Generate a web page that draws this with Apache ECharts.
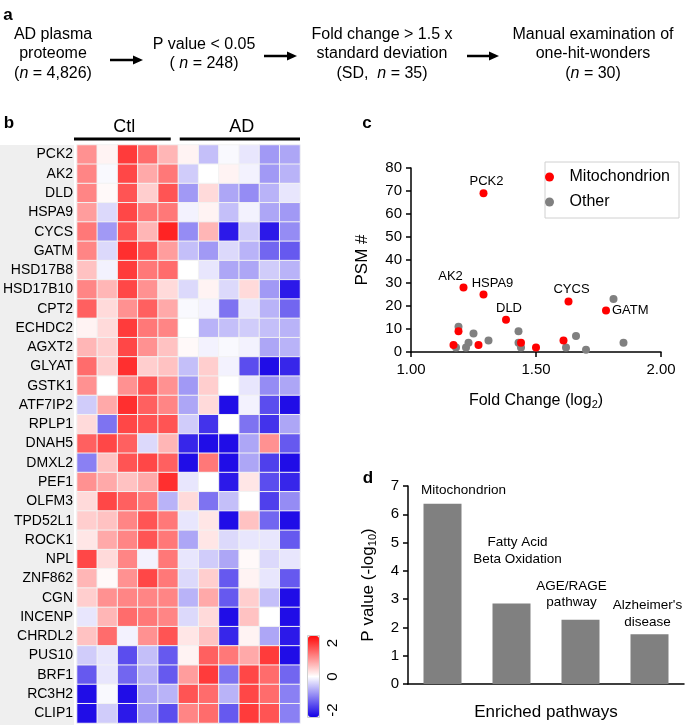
<!DOCTYPE html>
<html><head><meta charset="utf-8">
<script src="https://cdn.jsdelivr.net/npm/echarts@6/dist/echarts.min.js"></script>
<style>html,body{margin:0;padding:0;background:#fff}#c{width:685px;height:725px}</style>
</head><body><div id="c"></div>
<script>
// ---------- DATA ----------
const genes = ['PCK2','AK2','DLD','HSPA9','CYCS','GATM','HSD17B8','HSD17B10','CPT2','ECHDC2','AGXT2','GLYAT','GSTK1','ATF7IP2','RPLP1','DNAH5','DMXL2','PEF1','OLFM3','TPD52L1','ROCK1','NPL','ZNF862','CGN','INCENP','CHRDL2','PUS10','BRF1','RC3H2','CLIP1'];
const samples = ['Ctl-1','Ctl-2','Ctl-3','Ctl-4','Ctl-5','AD-1','AD-2','AD-3','AD-4','AD-5','AD-6'];
const groups = ['Ctl','AD'];
const groupSizes = [5, 6];
const heatValues = [
  [ 0.9, 0.1, 1.6, 1.2, 0.6,  0.1,-0.5,-0.05,-0.2,-0.8,-0.7],
  [ 1.0,-0.05,1.5, 0.7, 1.1, -0.4, 0.0, 0.1,-0.1,-0.8,-0.6],
  [ 1.0, 0.05,1.4, 0.4, 1.4, -0.8, 0.3,-0.7,-0.9,-0.6,-0.2],
  [ 0.8,-0.3, 1.5, 1.1, 1.1, -0.1, 0.1,-0.5,-0.1,-0.7,-0.8],
  [ 1.1,-0.8, 1.4, 0.6, 1.8, -0.9, 0.6,-1.8,-0.4,-1.8,-0.9],
  [ 1.0,-0.3, 1.7, 1.4, 0.8, -0.5,-0.8,-0.3,-0.6,-1.2,-1.3],
  [ 0.5,-0.1, 1.6, 1.1, 1.2,  0.0,-0.2,-0.7,-0.7,-0.4,-0.6],
  [ 1.0, 0.6, 1.5, 0.9, 0.3, -0.3, 0.1,-0.3, 0.3,-0.8,-1.8],
  [ 1.3, 0.3, 0.9, 1.3, 0.7, -0.05,-0.1,-1.1,-0.2,-0.6,-1.2],
  [ 0.1, 0.3, 1.6, 1.1, 1.0,  0.0,-0.6,-0.5,-0.4,-0.5,-0.6],
  [ 0.6, 0.4, 1.5, 0.9, 0.5,  0.05,-0.1,-0.05,-0.1,-0.7,-0.6],
  [ 1.2, 0.4, 1.7, 0.4, 0.5, -0.5, 0.4,-0.1,-1.4,-1.9,-1.7],
  [ 0.9, 0.0, 0.9, 1.4, 0.9, -0.8, 0.4, 0.0,-0.2,-0.9,-0.7],
  [-0.4, 0.7, 1.7, 1.3, 1.0, -0.7, 0.3,-1.9,-0.1,-1.4,-1.9],
  [ 0.3,-1.1, 1.5, 1.4, 1.4, -0.4,-1.6, 0.0,-1.1,-1.6,-0.7],
  [ 1.3, 1.5, 1.3,-0.3, 0.6, -1.7,-1.9,-1.9,-0.7, 0.9,-1.3],
  [-1.0, 0.5, 1.4, 1.5, 1.3, -1.9, 1.1,-1.9,-0.7,-1.5,-1.9],
  [ 0.9, 0.7, 0.5, 0.7, 1.7, -0.2, 0.0,-1.8, 0.2,-1.4,-1.7],
  [ 0.3, 1.5, 1.3, 1.1,-0.6,  0.3,-1.1,-0.5, 0.0,-1.5,-0.9],
  [ 0.4, 0.5, 1.0, 1.4, 1.1, -0.2, 0.2,-1.9, 0.5,-1.2,-1.9],
  [ 0.2, 0.7, 1.0, 1.4, 1.1, -0.7, 0.2,-0.3,-0.2,-0.2,-1.3],
  [ 1.5, 0.3, 1.0,-0.1, 1.1, -0.2,-0.4,-0.7, 0.05,-0.3,-0.2],
  [ 0.6, 0.05,0.9, 1.5, 1.1, -0.3, 0.4,-1.3, 0.1,-0.2,-1.3],
  [ 0.4, 0.9, 1.0, 1.0, 1.0, -0.6, 0.7,-1.3, 0.4,-0.5,-1.9],
  [-0.2, 0.6, 1.2, 1.1, 1.0, -0.3, 0.3,-1.9, 0.5, 0.0,-1.9],
  [ 0.5, 1.2,-0.1, 0.9, 1.4,  0.2, 0.5,-1.7, 0.1,-0.7,-1.8],
  [-0.4,-0.2,-1.4,-0.5,-1.3,  0.1, 1.3, 1.1, 0.7, 1.6,-1.9],
  [-1.3,-0.2,-1.2,-0.6,-1.3,  0.8, 1.6,-1.1, 1.5, 1.2,-1.2],
  [-1.9,-0.05,-1.9,-0.7,-0.6, 1.4, 1.2,-0.6, 1.5, 1.2,-1.0],
  [-1.9,-0.4,-1.8,-0.8,-1.4,  1.0, 1.2,-1.3, 1.6, 1.4,-1.0]
];
const colorbarTicks = [2, 0, -2];

const mitoNames = ['PCK2','AK2','HSPA9','DLD','CYCS','GATM','','','','','',''];
const mitoFold  = [1.29, 1.21, 1.29, 1.38, 1.63, 1.78, 1.19, 1.17, 1.27, 1.44, 1.50, 1.61];
const mitoPSM   = [69, 28, 25, 14, 22, 18, 9, 3, 3, 4, 2, 5];
const otherFold = [1.19, 1.25, 1.31, 1.43, 1.43, 1.44, 1.18, 1.22, 1.23, 1.62, 1.66, 1.70, 1.81, 1.85];
const otherPSM  = [11, 8, 5, 9, 4, 2, 2, 2, 4, 2, 7, 1, 23, 4];

const pathways = ['Mitochondrion', 'Fatty Acid\nBeta Oxidation', 'AGE/RAGE\npathway', "Alzheimer's\ndisease"];
const pathwayP = [6.37, 2.85, 2.27, 1.76];

const flowSteps = [
  ['AD plasma', 'proteome', '(@n@ = 4,826)'],
  ['P value < 0.05', '( @n@ = 248)'],
  ['Fold change > 1.5 x', 'standard deviation', '(SD,  @n@ = 35)'],
  ['Manual examination of', 'one-hit-wonders', '(@n@ = 30)']
];

// ---------- STYLE / LAYOUT ----------
const FONT = '"Liberation Sans", Arial, sans-serif';
const HM = {left: 74, top: 145, width: 226, height: 578};
const CB = {left: 308, top: 636, width: 11, height: 81};
const SC = {left: 411, top: 168, width: 250, height: 184};
const BR = {left: 408, top: 486, width: 276, height: 198};

const scatterLabelStyle = {
  PCK2:  {position: 'top', distance: 1, offset: [3, 0]},
  AK2:   {position: 'top', distance: 1, offset: [-13, 0]},
  HSPA9: {position: 'top', distance: 1, offset: [9, 0]},
  DLD:   {position: 'top', distance: 1, offset: [3, 0]},
  CYCS:  {position: 'top', distance: 1, offset: [3, 0]},
  GATM:  {position: 'right', distance: 2, offset: [0, 0]}
};
const barLabelDist = [5, 36, 9, 4];
const barLabelDx = [21, 6, -9, -2];
const flowCenters = [[53, 54], [204, 54], [382, 54], [593, 54]];
const arrows = [[110, 143, 60], [264, 297, 56], [467, 499, 56]];

// ---------- BUILD ----------
const heatData = [];
heatValues.forEach((row, r) => row.forEach((v, c) => heatData.push([c, r, v])));

const mitoData = mitoFold.map((x, i) => {
  const n = mitoNames[i];
  const item = {name: n, value: [x, mitoPSM[i]]};
  if (n && scatterLabelStyle[n]) {
    item.label = Object.assign({show: true, formatter: n, fontSize: 13, color: '#000', fontFamily: FONT}, scatterLabelStyle[n]);
  }
  return item;
});
const otherData = otherFold.map((x, i) => [x, otherPSM[i]]);

const barData = pathwayP.map((v, i) => ({
  value: v,
  label: {distance: barLabelDist[i], offset: [barLabelDx[i], 0]}
}));

const graphics = [];
graphics.push({type: 'rect', z: -10, shape: {x: 0, y: HM.top, width: HM.left, height: 725 - HM.top}, style: {fill: '#efefef'}});
[['a', 8, 15], ['b', 9, 123], ['c', 367, 123], ['d', 368, 478]].forEach(([t, x, y]) => {
  graphics.push({type: 'text', x: x, y: y, style: {text: t, font: 'bold 17px ' + FONT, fill: '#000', align: 'center', verticalAlign: 'middle'}});
});
const cw = HM.width / samples.length;
let start = 0;
groups.forEach((g, gi) => {
  const x0 = HM.left + start * cw + (gi === 0 ? 0 : 3);
  const x1 = HM.left + (start + groupSizes[gi]) * cw - (gi === 0 ? 6 : 0);
  graphics.push({type: 'line', shape: {x1: x0, y1: 139, x2: x1, y2: 139}, style: {stroke: '#000', lineWidth: 3}});
  graphics.push({type: 'text', x: (x0 + x1) / 2 + 2, y: 127, style: {text: g, font: '18px ' + FONT, fill: '#000', align: 'center', verticalAlign: 'middle'}});
  start += groupSizes[gi];
});
graphics.push({type: 'rect', z: 100, shape: {x: CB.left - 0.5, y: CB.top - 0.5, width: CB.width + 1, height: CB.height + 1}, style: {fill: null, stroke: '#d0d0d0', lineWidth: 1}});
colorbarTicks.forEach(v => {
  const y = CB.top + 7 + (2 - v) / 4 * (CB.height - 14);
  graphics.push({type: 'text', x: CB.left + 25, y: y, rotation: Math.PI / 2, style: {text: String(v), font: '15px ' + FONT, fill: '#000', align: 'center', verticalAlign: 'middle'}});
});
flowSteps.forEach((lines, i) => {
  const txt = lines.map(l => l.split('@').map((p, k) => p ? (k % 2 ? '{i|' + p + '}' : '{r|' + p + '}') : '').join('')).join('\n');
  graphics.push({type: 'text', x: flowCenters[i][0], y: flowCenters[i][1], style: {
    text: txt, align: 'center', verticalAlign: 'middle', fill: '#000', font: '16px ' + FONT, lineHeight: 19.5,
    rich: {r: {fontSize: 16, fontFamily: FONT, lineHeight: 19.5, fill: '#000'}, i: {fontSize: 16, fontFamily: FONT, fontStyle: 'italic', lineHeight: 19.5, fill: '#000'}}
  }});
});
arrows.forEach(([x0, x1, y]) => {
  graphics.push({type: 'line', shape: {x1: x0, y1: y, x2: x1 - 8, y2: y}, style: {stroke: '#000', lineWidth: 2.5}});
  graphics.push({type: 'polygon', shape: {points: [[x1 - 10, y - 4.5], [x1, y], [x1 - 10, y + 4.5]]}, style: {fill: '#000'}});
});

const axisTxt = {color: '#000', fontFamily: FONT};

const option = {
  backgroundColor: '#fff',
  animation: false,
  textStyle: {fontFamily: FONT},
  grid: [
    {left: HM.left, top: HM.top, width: HM.width, height: HM.height},
    {left: SC.left, top: SC.top, width: SC.width, height: SC.height},
    {left: BR.left, top: BR.top, width: BR.width, height: BR.height}
  ],
  xAxis: [
    {gridIndex: 0, type: 'category', data: samples, show: false},
    {gridIndex: 1, type: 'value', min: 1, max: 2, interval: 0.5,
      axisLine: {lineStyle: {color: '#000', width: 1.5}}, axisTick: {show: true, length: 5, lineStyle: {color: '#000', width: 1.5}},
      splitLine: {show: false},
      axisLabel: Object.assign({fontSize: 15, margin: 10, formatter: v => v.toFixed(2)}, axisTxt),
      name: '{n|Fold Change (log}{s|2}{n|)}', nameLocation: 'middle', nameGap: 39,
      nameTextStyle: {color: '#000', fontSize: 16, rich: {n: {fontSize: 16, color: '#000', fontFamily: FONT}, s: {fontSize: 11, color: '#000', fontFamily: FONT, padding: [8, 0, 0, 0]}}}
    },
    {gridIndex: 2, type: 'category', data: pathways,
      axisLine: {lineStyle: {color: '#000', width: 1.5}}, axisTick: {show: false}, axisLabel: {show: false},
      name: 'Enriched pathways', nameLocation: 'middle', nameGap: 20,
      nameTextStyle: {color: '#000', fontSize: 17, fontFamily: FONT}
    }
  ],
  yAxis: [
    {gridIndex: 0, type: 'category', data: genes, inverse: true,
      axisLine: {show: false}, axisTick: {show: false},
      axisLabel: Object.assign({fontSize: 14, margin: 4}, axisTxt)},
    {gridIndex: 1, type: 'value', min: 0, max: 80, interval: 10,
      axisLine: {show: true, lineStyle: {color: '#000', width: 1.5}}, axisTick: {show: true, length: 5, lineStyle: {color: '#000', width: 1.5}},
      splitLine: {show: false},
      axisLabel: Object.assign({fontSize: 15, margin: 9}, axisTxt),
      name: 'PSM #', nameLocation: 'middle', nameGap: 40,
      nameTextStyle: {color: '#000', fontSize: 17, fontFamily: FONT}
    },
    {gridIndex: 2, type: 'value', min: 0, max: 7, interval: 1,
      axisLine: {show: true, lineStyle: {color: '#000', width: 1.5}}, axisTick: {show: true, length: 5, lineStyle: {color: '#000', width: 1.5}},
      splitLine: {show: false},
      axisLabel: Object.assign({fontSize: 15, margin: 9}, axisTxt),
      name: '{n|P value (-log}{s|10}{n|)}', nameLocation: 'middle', nameGap: 30,
      nameTextStyle: {color: '#000', fontSize: 17, rich: {n: {fontSize: 17, color: '#000', fontFamily: FONT}, s: {fontSize: 11, color: '#000', fontFamily: FONT, padding: [8, 0, 0, 0]}}}
    }
  ],
  visualMap: {
    type: 'continuous', seriesIndex: 0, min: -2, max: 2, calculable: false, realtime: false,
    left: CB.left, top: CB.top, itemWidth: CB.width, itemHeight: CB.height, padding: 0,
    text: null, showLabel: false,
    inRange: {color: ['#1400e6', '#ffffff', '#ff0a0a']}
  },
  legend: {
    data: ['Mitochondrion', 'Other'], orient: 'vertical', left: 545, top: 162,
    padding: [7, 9, 8, 0], itemGap: 9, itemWidth: 18, itemHeight: 9, icon: 'circle',
    borderColor: '#d0d0d0', borderWidth: 1,
    textStyle: {fontSize: 16, color: '#000', fontFamily: FONT, padding: [0, 0, 0, 6]}
  },
  graphic: {elements: graphics},
  series: [
    {type: 'heatmap', xAxisIndex: 0, yAxisIndex: 0, data: heatData,
      itemStyle: {borderColor: '#f2f2f2', borderWidth: 1}, emphasis: {disabled: true}},
    {type: 'scatter', name: 'Other', xAxisIndex: 1, yAxisIndex: 1, data: otherData, symbolSize: 8,
      itemStyle: {color: '#808080', opacity: 1}, z: 2},
    {type: 'scatter', name: 'Mitochondrion', xAxisIndex: 1, yAxisIndex: 1, data: mitoData, symbolSize: 8,
      itemStyle: {color: '#ff0000', opacity: 1}, z: 3},
    {type: 'bar', xAxisIndex: 2, yAxisIndex: 2, data: barData, barWidth: 38,
      itemStyle: {color: '#808080'},
      label: {show: true, position: 'top', color: '#000', fontSize: 13.5, lineHeight: 16.5, fontFamily: FONT,
        formatter: p => pathways[p.dataIndex]}}
  ]
};
const chart = echarts.init(document.getElementById('c'));
chart.setOption(option);
</script>
</body></html>
